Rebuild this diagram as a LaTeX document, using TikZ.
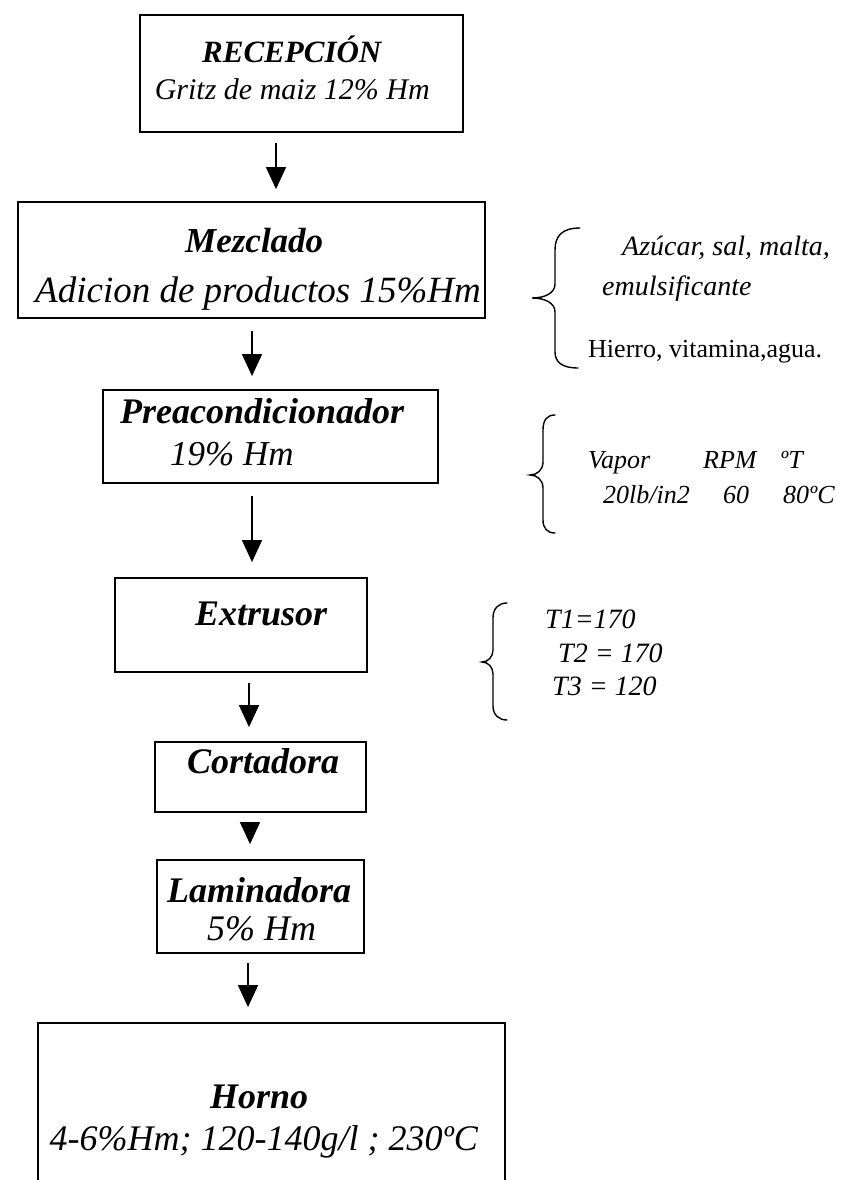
\documentclass[tikz,border=0pt]{standalone}
\usepackage{fontspec}
\setmainfont{Liberation Serif}
\usetikzlibrary{arrows.meta}
\tikzset{
  box/.style={draw, line width=1.8pt, inner sep=0pt, rectangle},
  arr/.style={line width=1.6pt, -{Triangle[width=20pt,length=22pt]}},
  brace/.style={line width=1.4pt, line cap=round},
  ttl/.style={anchor=base west, inner sep=0pt, font=\fontsize{36}{40}\selectfont\bfseries\itshape},
  sub/.style={anchor=base west, inner sep=0pt, font=\fontsize{36}{40}\selectfont\itshape},
  side/.style={anchor=base west, inner sep=0pt, font=\fontsize{28}{32}\selectfont\itshape},
  sideup/.style={anchor=base west, inner sep=0pt, font=\fontsize{26}{30}\selectfont},
}
\begin{document}
\begin{tikzpicture}[x=1pt,y=-1pt]
\clip (0,0) rectangle (846,1180);
\fill[white] (0,0) rectangle (846,1180);
% boxes
\node[box, minimum width=323pt, minimum height=117pt] (b1) at (301.5,73.5) {};
\node[box, minimum width=467pt, minimum height=116pt] (b2) at (251.5,260) {};
\node[box, minimum width=335pt, minimum height=93pt] (b3) at (270.5,436.5) {};
\node[box, minimum width=252pt, minimum height=94pt] (b4) at (241,625) {};
\node[box, minimum width=211pt, minimum height=70pt] (b5) at (260.5,777) {};
\node[box, minimum width=207pt, minimum height=93pt] (b6) at (260.5,906.5) {};
\node[box, minimum width=467pt, minimum height=197pt] (b7) at (271.5,1121.5) {};
% box texts
\node[ttl, font=\fontsize{31}{34}\selectfont\bfseries\itshape] (t1a) at (202,63) {RECEPCIÓN};
\node[sub, anchor=base east, font=\fontsize{30}{34}\selectfont\itshape] (t1b) at (430,100) {Gritz de maiz 12\% Hm};
\node[ttl, font=\fontsize{35}{40}\selectfont\bfseries\itshape] (t2a) at (185,252) {Mezclado};
\node[sub, font=\fontsize{37}{42}\selectfont\itshape] (t2b) at (35,302) {Adicion de productos 15\%Hm};
\node[ttl] (t3a) at (120,423) {Preacondicionador};
\node[sub, font=\fontsize{35}{40}\selectfont\itshape] (t3b) at (170,465) {19\% Hm};
\node[ttl] (t4) at (195,625) {Extrusor};
\node[ttl] (t5) at (187,773) {Cortadora};
\node[ttl] (t6a) at (167,902) {Laminadora};
\node[sub] (t6b) at (207,940) {5\% Hm};
\node[ttl] (t7a) at (210,1108) {Horno};
\node[sub, anchor=base east] (t7b) at (478,1150) {4-6\%Hm; 120-140g/l ; 230ºC};
% arrows
\coordinate (x1) at (276,0);
\coordinate (x2) at (252,0);
\coordinate (x3) at (252,0);
\coordinate (x4) at (249,0);
\coordinate (x5) at (250,0);
\coordinate (x6) at (248,0);
\draw[arr] ([yshift=-10pt]b1.south -| x1) -- ([yshift=12pt]b2.north -| x1);
\draw[arr] ([yshift=-12pt]b2.south -| x2) -- ([yshift=13pt]b3.north -| x2);
\draw[arr] ([yshift=-12pt]b3.south -| x3) -- ([yshift=15pt]b4.north -| x3);
\draw[arr] ([yshift=-10pt]b4.south -| x4) -- ([yshift=14pt]b5.north -| x4);
\draw[arr] ([yshift=-10pt]b5.south -| x5) -- ([yshift=15pt]b6.north -| x5);
\draw[arr] ([yshift=-9pt]b6.south -| x6) -- ([yshift=15pt]b7.north -| x6);
% braces
\draw[brace] (580,228) .. controls (562,228) and (555,236) .. (555,250) -- (555,284)
  .. controls (555,293) and (545,298) .. (532,298)
  .. controls (545,298) and (555,303) .. (555,312) -- (555,352)
  .. controls (555,362) and (562,368) .. (578,368);
\draw[brace] (555,415) .. controls (547,415) and (543,420) .. (543,430) -- (543,462)
  .. controls (543,470) and (537,475) .. (530,475)
  .. controls (537,475) and (543,480) .. (543,488) -- (543,520)
  .. controls (543,528) and (547,533) .. (555,533);
\draw[brace] (507,603) .. controls (499,603) and (493,608) .. (493,618) -- (493,650)
  .. controls (493,657) and (488,662) .. (482,662)
  .. controls (488,662) and (493,667) .. (493,674) -- (493,706)
  .. controls (493,715) and (499,720) .. (507,720);
% side texts
\node[side] (s1) at (622,255) {Azúcar, sal, malta,};
\node[side] (s2) at (602,295) {emulsificante};
\node[sideup] (s3) at (588,357) {Hierro, vitamina,agua.};
\node[side, font=\fontsize{26}{30}\selectfont\itshape] (s4) at (588,468) {Vapor};
\node[side, font=\fontsize{26}{30}\selectfont\itshape] (s5) at (703,468) {RPM};
\node[side, font=\fontsize{26}{30}\selectfont\itshape] (s6) at (780,468) {ºT};
\node[side, font=\fontsize{26}{30}\selectfont\itshape] (s7) at (603,503) {20lb/in2};
\node[side, font=\fontsize{26}{30}\selectfont\itshape] (s8) at (723,503) {60};
\node[side, font=\fontsize{26}{30}\selectfont\itshape] (s9) at (783,503) {80ºC};
\node[side] (s10) at (545,628) {T1=170};
\node[side] (s11) at (558,662) {T2 = 170};
\node[side] (s12) at (552,695) {T3 = 120};
\end{tikzpicture}
\end{document}
